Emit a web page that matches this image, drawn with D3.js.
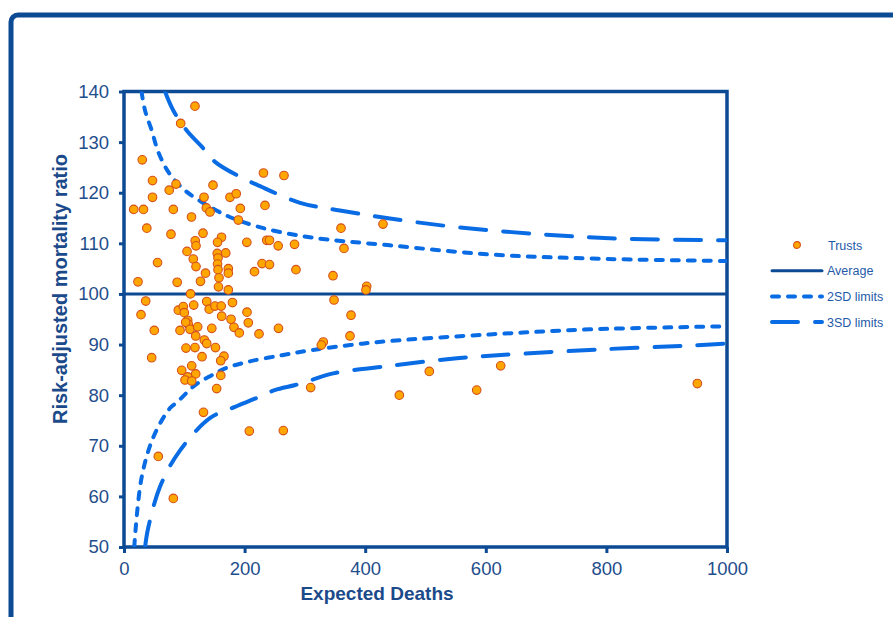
<!DOCTYPE html>
<html lang="en">

<head>
    <meta charset="utf-8" />
    <title>Funnel plot - risk-adjusted mortality</title>
    <script src="https://cdn.jsdelivr.net/npm/d3@7"></script>
    <style>
        body { margin: 0; background: #fff; font-family: "Liberation Sans", Arial, sans-serif; }
        .tick text { fill: #1f4e8c; font-size: 18.5px; }
        .axis-title { fill: #1b4a8a; font-weight: bold; }
        .legend text { fill: #1f5aa8; font-size: 12.5px; }
    </style>
</head>

<body>
    <div id='chart'></div>
</body>
<script>

    // trusts: expected deaths / risk-adjusted mortality ratio
    let expected = [117.7, 94.0, 30.3, 231.3, 265.3, 47.3, 75.0, 86.2, 147.6, 47.3,
        132.7, 175.8, 186.1, 233.8, 16.1, 32.3, 81.8, 136.5, 142.6, 111.9,
        192.9, 189.6, 37.8, 77.9, 131.0, 161.7, 118.1, 119.4, 155.1, 203.7,
        236.7, 241.3, 255.7, 282.8, 104.5, 154.7, 168.7, 114.9, 155.9, 55.6,
        119.4, 228.9, 241.3, 216.4, 285.2, 173.0, 173.0, 155.1, 155.9, 135.2,
        23.2, 88.2, 126.9, 157.5, 156.7, 173.0, 110.3, 359.9, 429.5, 364.8,
        346.6, 402.5, 401.3, 36.0, 28.2, 50.2, 45.9, 90.1, 98.3, 100.0,
        115.6, 137.2, 141.3, 150.9, 161.2, 179.9, 105.6, 106.6, 102.3, 92.9,
        109.5, 122.2, 118.9, 133.2, 137.2, 145.6, 102.8, 117.7, 129.4, 95.7,
        112.3, 118.9, 105.6, 101.2, 112.3, 151.7, 162.0, 177.5, 182.4, 191.2,
        204.0, 206.1, 223.9, 256.2, 165.8, 160.4, 160.5, 153.7, 131.8, 207.8,
        264.2, 309.6, 348.3, 376.5, 374.8, 330.5, 327.2, 456.6, 56.9, 81.8,
        506.3, 584.9, 624.7, 950.8];
    let ratio = [137.1, 133.7, 126.5, 123.9, 123.4, 122.4, 120.5, 121.7, 121.5, 119.1,
        119.1, 119.1, 119.8, 117.5, 116.7, 116.7, 116.7, 117.0, 116.2, 115.2,
        116.9, 114.6, 113.0, 111.8, 112.0, 111.2, 110.5, 109.5, 110.2, 110.2,
        110.6, 110.6, 109.5, 109.8, 108.4, 108.0, 108.1, 106.9, 107.1, 106.2,
        105.4, 106.0, 105.8, 104.4, 104.8, 105.0, 104.1, 105.9, 104.8, 104.1,
        102.4, 102.3, 102.5, 103.2, 101.4, 100.8, 100.0, 113.0, 113.8, 109.0,
        103.6, 101.5, 100.8, 98.6, 95.9, 92.8, 87.4, 96.8, 97.5, 96.3,
        97.8, 98.5, 97.0, 97.6, 97.6, 98.3, 94.8, 94.0, 94.4, 92.8,
        93.0, 93.5, 91.7, 90.9, 90.2, 93.2, 89.3, 89.4, 87.6, 84.9,
        85.8, 84.2, 83.6, 83.0, 82.8, 89.4, 95.6, 95.0, 93.4, 92.3,
        96.4, 94.3, 92.1, 93.2, 87.7, 86.8, 83.9, 81.3, 76.6, 72.9,
        73.0, 81.5, 98.8, 95.8, 91.7, 90.5, 89.9, 80.0, 67.9, 59.6,
        84.7, 81.0, 85.8, 82.3];

    let average = 100;

    // control limits
    let upper2E = [29, 35, 46, 57, 74, 96, 118, 170, 225, 308, 441, 607, 773, 1000];
    let upper2V = [140, 136.2, 132.3, 128, 124, 121, 119, 115.5, 113.2, 111.2, 109.6, 107.8, 107, 106.5];
    let lower2E = [17, 29, 49, 76, 88, 118, 145, 168, 206, 262, 311, 375, 441, 607, 773, 1000];
    let lower2V = [50, 63.6, 71.8, 77.4, 78.6, 82, 83.9, 85.3, 86.6, 87.9, 88.9, 89.9, 90.7, 92.0, 93.0, 93.6];
    let upper3E = [68, 82, 104, 129, 151, 198, 220, 292, 358, 441, 552, 690, 828, 1000];
    let upper3V = [140, 136.2, 132.3, 129.1, 126.1, 122.8, 121.6, 118, 116.5, 114.9, 113.2, 111.8, 110.9, 110.6];
    let lower3E = [35, 40, 60, 93, 143, 184, 217, 250, 284, 311, 347, 441, 552, 662, 800, 939, 1000];
    let lower3V = [50, 53.7, 62, 69.1, 75.5, 77.7, 79.3, 81, 82, 83, 84.3, 85.8, 87.3, 88.2, 89.1, 89.8, 90.2];

    let xTicks = [0, 200, 400, 600, 800, 1000];
    let yTicks = [50, 60, 70, 80, 90, 100, 110, 120, 130, 140];

    let W = 893, H = 617;
    let margin = { top: 91.5, left: 124, right: 166, bottom: 70 };
    let width = W - margin.left - margin.right,
        height = H - margin.top - margin.bottom;

    let navy = '#0d4a94', bright = '#0a6ce4';

    let svg = d3.select('#chart').append('svg')
        .attr('width', W)
        .attr('height', H);

    // outer frame
    svg.append('rect')
        .attr('x', 11).attr('y', 15)
        .attr('width', W + 20).attr('height', H + 20)
        .attr('rx', 7)
        .attr('fill', 'none')
        .attr('stroke', navy)
        .attr('stroke-width', 5);

    let x = d3.scaleLinear().domain([0, 1000]).range([0, width]);
    let y = d3.scaleLinear().domain([50, 140]).range([height, 0]);

    let g = svg.append('g')
        .attr('transform', 'translate(' + margin.left + ',' + margin.top + ')');

    g.append('clipPath').attr('id', 'plot-clip')
        .append('rect').attr('width', width).attr('height', height);

    let xAxis = d3.axisBottom(x).tickValues(xTicks).tickFormat(d3.format('d')).tickSize(6).tickPadding(9);
    let yAxis = d3.axisLeft(y).tickValues(yTicks).tickSize(5).tickPadding(10);

    let gx = g.append('g')
        .attr('transform', 'translate(0,' + height + ')')
        .call(xAxis);
    let gy = g.append('g').call(yAxis);
    [gx, gy].forEach(a => {
        a.select('.domain').remove();
        a.selectAll('.tick line').attr('stroke', navy).attr('stroke-width', 3);
        a.selectAll('.tick text').attr('font-family', '"Liberation Sans", Arial, sans-serif');
    });

    // box around plot
    g.append('rect')
        .attr('width', width).attr('height', height)
        .attr('fill', 'none')
        .attr('stroke', navy)
        .attr('stroke-width', 3.5);

    let line = d3.line()
        .x(d => x(d[0]))
        .y(d => y(d[1]))
        .curve(d3.curveCatmullRom.alpha(0.5));

    let limits = [
        { e: upper2E, v: upper2V, dash: '7,9' },
        { e: lower2E, v: lower2V, dash: '7,9' },
        { e: upper3E, v: upper3V, dash: '26,17' },
        { e: lower3E, v: lower3V, dash: '26,17' }
    ];

    let curves = g.append('g').attr('clip-path', 'url(#plot-clip)');
    limits.forEach(l => {
        curves.append('path')
            .datum(l.e.map((e, i) => [e, l.v[i]]))
            .attr('d', line)
            .attr('fill', 'none')
            .attr('stroke', bright)
            .attr('stroke-width', 4)
            .attr('stroke-linecap', 'round')
            .attr('stroke-dasharray', l.dash);
    });

    g.append('line')
        .attr('x1', 0).attr('x2', width)
        .attr('y1', y(average)).attr('y2', y(average))
        .attr('stroke', navy)
        .attr('stroke-width', 3);

    let data = expected.map((e, i) => ({ e: e, v: ratio[i] }));

    g.selectAll('.dot')
        .data(data)
        .enter().append('circle')
        .attr('class', 'dot')
        .attr('cx', d => x(d.e))
        .attr('cy', d => y(d.v))
        .attr('r', 4.3)
        .attr('fill', '#ffa600')
        .attr('stroke', '#d4501c')
        .attr('stroke-width', 1.1);

    // axis titles
    svg.append('text')
        .attr('class', 'axis-title')
        .attr('x', 377)
        .attr('y', 600)
        .attr('font-size', 19)
        .attr('text-anchor', 'middle')
        .text('Expected Deaths');

    svg.append('text')
        .attr('class', 'axis-title')
        .attr('transform', 'translate(67,289) rotate(-90)')
        .attr('font-size', 20)
        .attr('text-anchor', 'middle')
        .text('Risk-adjusted mortality ratio');

    // legend
    let legend = svg.append('g').attr('class', 'legend')
        .attr('transform', 'translate(770,245)');
    let items = [
        { label: 'Trusts', type: 'dot' },
        { label: 'Average', type: 'line', color: navy, w: 3, dash: null },
        { label: '2SD limits', type: 'line', color: bright, w: 4, dash: '7,9' },
        { label: '3SD limits', type: 'line', color: bright, w: 4, dash: '26,17' }
    ];
    items.forEach((it, i) => {
        let row = legend.append('g').attr('transform', 'translate(0,' + (i * 25.7) + ')');
        if (it.type == 'dot') {
            row.append('circle')
                .attr('cx', 27).attr('cy', 0).attr('r', 3.4)
                .attr('fill', '#ffa600')
                .attr('stroke', '#d4501c')
                .attr('stroke-width', 1.1);
        } else {
            row.append('line')
                .attr('x1', 2).attr('x2', 52)
                .attr('stroke', it.color)
                .attr('stroke-width', it.w)
                .attr('stroke-linecap', 'round')
                .attr('stroke-dasharray', it.dash);
        }
        row.append('text')
            .attr('x', it.type == 'dot' ? 58 : 57)
            .attr('y', 4.5)
            .text(it.label);
    });

</script>

</html>
